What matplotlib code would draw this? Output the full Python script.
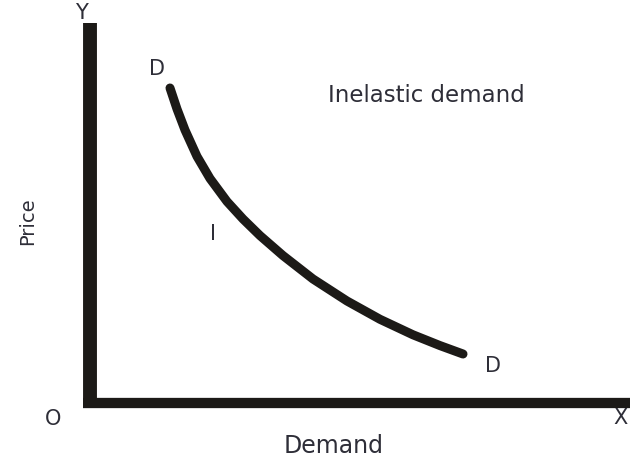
"""Inelastic demand curve: a steep, convex D-D line on price/demand axes."""

import matplotlib

matplotlib.use("Agg")
import matplotlib.pyplot as plt

# Demand curve (quantity, price), origin at O.
QUANTITY = [80, 87, 95, 107, 120, 137, 153, 170, 193, 223, 257, 290, 323, 350, 373]
PRICE = [315, 294, 273, 246.6, 224.5, 201.5, 184, 167.4, 147.4, 124, 102, 83.7, 68.2, 57.4, 49]

X_LABEL = "Demand"
Y_LABEL = "Price"
TITLE = "Inelastic demand"

INK = "#1c1a17"
TEXT = "#2e2e38"

fig = plt.figure(figsize=(6.3, 4.66), dpi=100)
ax = fig.add_axes([0, 0, 1, 1])
ax.set_xlim(-90, 540)
ax.set_ylim(-63, 403)
ax.set_axis_off()

# Axes drawn as heavy strokes, like the textbook figure.
ax.plot([0, 0], [-5, 380], color=INK, linewidth=10, solid_capstyle="butt")
ax.plot([-7, 540], [0, 0], color=INK, linewidth=7.4, solid_capstyle="butt")

ax.plot(QUANTITY, PRICE, color=INK, linewidth=6.5,
        solid_capstyle="round", solid_joinstyle="round")

font = dict(color=TEXT, fontsize=15)
ax.text(-9, 390, "Y", ha="center", va="center", **font)
ax.text(530, -15, "X", ha="center", va="center", **font)
ax.text(-37, -16, "O", ha="center", va="center", **font)
ax.text(67, 334, "D", ha="center", va="center", **font)
ax.text(403, 37, "D", ha="center", va="center", **font)
ax.text(123, 169, "I", ha="center", va="center", **font)
ax.text(238, 308, TITLE, ha="left", va="center", color=TEXT, fontsize=16.5)
ax.text(244, -43, X_LABEL, ha="center", va="center", color=TEXT, fontsize=17)
ax.text(-62, 182, Y_LABEL, ha="center", va="center", rotation=90,
        color=TEXT, fontsize=14)

fig.savefig("out.png", dpi=100)
